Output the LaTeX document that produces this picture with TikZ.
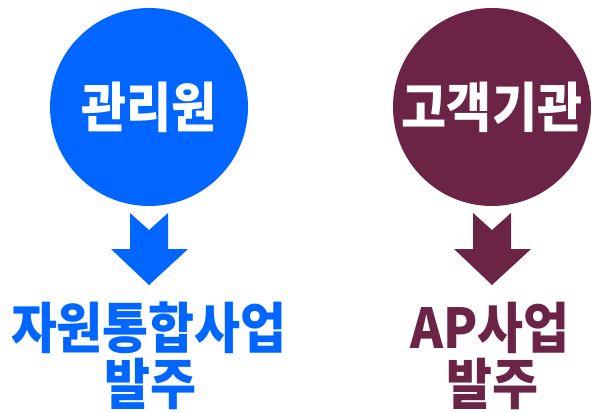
\documentclass[tikz,border=0pt]{standalone}
\usepackage{graphicx}
\usepackage{fontspec}
\setmainfont{Noto Sans CJK KR}[BoldFont={Noto Sans CJK KR Black}]
\definecolor{cblue}{HTML}{0066FF}
\definecolor{cwine}{HTML}{6B2346}
\newcommand{\tallt}[1]{\scalebox{1}[1.1]{#1}}
\tikzset{
  bubble/.style={circle,fill=#1,minimum size=198pt,inner sep=0pt,text=white,font=\fontsize{49}{50}\selectfont\bfseries},
  caption/.style={text=#1,inner sep=0pt,font=\fontsize{50}{58}\selectfont\bfseries}
}
\newcommand{\downarrowshape}[2]{%
  \fill[#2] ($(#1)+(-19,213)$) -- ($(#1)+(0,230)$) -- ($(#1)+(19,213)$) -- ($(#1)+(19,249)$)
    -- ($(#1)+(39,249)$) -- ($(#1)+(0,285)$) -- ($(#1)+(-38,249)$) -- ($(#1)+(-19,249)$) -- cycle;}
\usetikzlibrary{calc}
\begin{document}
\begin{tikzpicture}[x=1pt,y=-1pt]
\useasboundingbox (0,0) rectangle (598,412);
\coordinate (la) at (149,0);
\coordinate (ra) at (492,0);
\node[bubble=cblue] (c1) at (149,107) {\tallt{관리원}};
\node[bubble=cwine] (c2) at (492,107) {\tallt{고객기관}};
\downarrowshape{la}{cblue}
\downarrowshape{ra}{cwine}
\node[caption=cblue] (t1) at (149,328) {\tallt{자원통합사업}};
\node[caption=cblue] (t1b) at (150,384) {\tallt{발주}};
\node[caption=cwine] (t2) at (490,328) {\tallt{AP사업}};
\node[caption=cwine] (t2b) at (492,384) {\tallt{발주}};
\end{tikzpicture}
\end{document}
